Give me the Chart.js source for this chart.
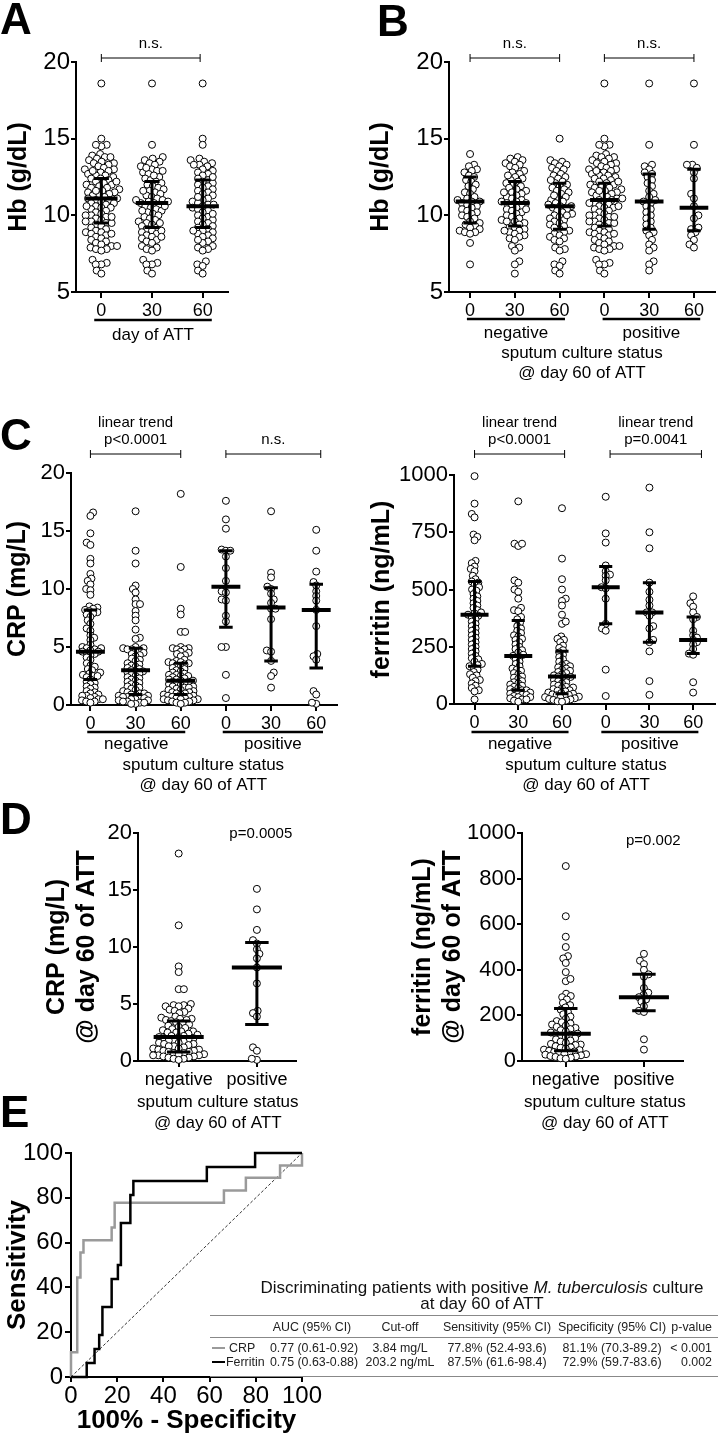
<!DOCTYPE html>
<html>
<head>
<meta charset="utf-8">
<script src="https://cdn.jsdelivr.net/npm/chart.js@4.4.1/dist/chart.umd.min.js"></script>
<style>
  body { margin: 0; background: #fff; }
  #page { position: relative; width: 720px; height: 1447px; overflow: hidden; font-family: 'Liberation Sans', Arial, sans-serif; color: #000; }
  canvas { position: absolute; }
  .letter { position: absolute; font-weight: bold; font-size: 44px; line-height: 1; }
  .t { position: absolute; white-space: nowrap; transform: translate(-50%, -50%); font-size: 12.4px; color: #222; line-height: 1; }
  .r { transform: translate(-100%, -50%); }
  .l { transform: translate(0, -50%); }
  .ttl { font-size: 17px; color: #111; }
  .rule { position: absolute; left: 210px; width: 508px; height: 1px; background: #888; }
  .dash { position: absolute; left: 212px; width: 13px; height: 2px; }
</style>
</head>
<body>
<div id="page">
  <canvas id="chA" width="240" height="320" style="left:0;top:30px"></canvas>
  <canvas id="chB" width="358" height="360" style="left:362px;top:30px"></canvas>
  <canvas id="chC1" width="345" height="400" style="left:0;top:395px"></canvas>
  <canvas id="chC2" width="360" height="400" style="left:360px;top:395px"></canvas>
  <canvas id="chD1" width="310" height="335" style="left:0;top:800px"></canvas>
  <canvas id="chD2" width="340" height="335" style="left:360px;top:800px"></canvas>
  <canvas id="chE" width="330" height="322" style="left:0;top:1125px"></canvas>

  <div class="letter" style="left:0;top:-3px">A</div>
  <div class="letter" style="left:377px;top:-1px">B</div>
  <div class="letter" style="left:0;top:413px">C</div>
  <div class="letter" style="left:0;top:797px">D</div>
  <div class="letter" style="left:0;top:1090px">E</div>

  <!-- ROC table -->
  <div class="t ttl" style="left:482px;top:1287px">Discriminating patients with positive <i>M. tuberculosis</i> culture</div>
  <div class="t ttl" style="left:482px;top:1303px">at day 60 of ATT</div>
  <div class="rule" style="top:1315px"></div>
  <div class="rule" style="top:1337px"></div>
  <div class="rule" style="top:1376px"></div>
  <div class="t" style="left:312px;top:1327px">AUC (95% CI)</div>
  <div class="t" style="left:400px;top:1327px">Cut-off</div>
  <div class="t" style="left:497px;top:1327px">Sensitivity (95% CI)</div>
  <div class="t" style="left:612px;top:1327px">Specificity (95% CI)</div>
  <div class="t r" style="left:712px;top:1327px">p-value</div>
  <div class="dash" style="top:1347px;background:#9a9a9a"></div>
  <div class="t l" style="left:229px;top:1348px">CRP</div>
  <div class="t" style="left:314px;top:1348px">0.77 (0.61-0.92)</div>
  <div class="t" style="left:400px;top:1348px">3.84 mg/L</div>
  <div class="t" style="left:497px;top:1348px">77.8% (52.4-93.6)</div>
  <div class="t" style="left:612px;top:1348px">81.1% (70.3-89.2)</div>
  <div class="t r" style="left:712px;top:1348px">&lt; 0.001</div>
  <div class="dash" style="top:1361px;background:#000"></div>
  <div class="t l" style="left:226px;top:1362px">Ferritin</div>
  <div class="t" style="left:314px;top:1362px">0.75 (0.63-0.88)</div>
  <div class="t" style="left:400px;top:1362px">203.2 ng/mL</div>
  <div class="t" style="left:497px;top:1362px">87.5% (61.6-98.4)</div>
  <div class="t" style="left:612px;top:1362px">72.9% (59.7-83.6)</div>
  <div class="t r" style="left:712px;top:1362px">0.002</div>
</div>
<script>
// --- 1. DATA ---
// panel A: Hb by day of ATT
const dayLabels = ['0', '30', '60'];
const hbDay0 = [18.6, 15.0, 14.6, 14.5, 14.6, 14.0, 13.9, 13.8, 13.8, 13.7, 13.6, 13.5, 13.4, 13.4, 13.3, 13.2, 13.1, 13.0, 13.0, 12.9,
  12.8, 12.7, 12.6, 12.6, 12.5, 12.4, 12.4, 12.3, 12.2, 12.1, 12.0, 12.0, 11.9, 11.8, 11.8, 11.7, 11.6, 11.5, 11.5, 11.4,
  11.3, 11.3, 11.2, 11.1, 11.1, 11.0, 11.0, 10.9, 10.8, 10.8, 10.7, 10.6, 10.5, 10.5, 10.4, 10.3, 10.2, 10.1, 10.0, 10.0,
  9.9, 9.8, 9.7, 9.6, 9.6, 9.5, 9.5, 9.4, 9.3, 9.2, 9.1, 9.0, 8.9, 8.9, 8.8, 8.7, 8.6, 8.5, 8.4, 8.3,
  8.2, 8.1, 8.0, 8.0, 7.9, 7.8, 7.8, 7.7, 7.1, 6.9, 6.8, 6.8, 6.4, 6.2, 12.9, 11.6, 10.6, 9.9, 12.2, 8.8];
const hbDay30 = [18.6, 14.6, 13.8, 13.7, 13.6, 13.5, 13.4, 13.3, 13.2, 13.0, 12.9, 12.8, 12.7, 12.5, 12.4, 12.3, 12.2, 12.1, 12.0, 11.9,
  11.8, 11.7, 11.6, 11.5, 11.4, 11.3, 11.2, 11.1, 11.0, 10.9, 10.9, 10.8, 10.8, 10.7, 10.6, 10.5, 10.4, 10.3, 10.2, 10.1,
  10.0, 9.9, 9.8, 9.7, 9.6, 9.5, 9.4, 9.3, 9.2, 9.1, 9.0, 8.9, 8.8, 8.7, 8.6, 8.5, 8.4, 8.3, 8.2, 8.0,
  7.9, 7.8, 7.7, 7.1, 6.9, 6.8, 6.8, 6.4, 6.2, 12.6, 11.6, 10.3, 9.5, 12.9, 13.1, 11.0, 10.6, 9.0, 8.6];
const hbDay60 = [18.6, 15.0, 14.6, 13.7, 13.6, 13.5, 13.4, 13.3, 13.3, 13.2, 13.0, 12.9, 12.8, 12.7, 12.6, 12.4, 12.3, 12.2, 12.1, 12.0,
  11.9, 11.8, 11.7, 11.6, 11.5, 11.4, 11.3, 11.1, 11.0, 10.9, 10.8, 10.7, 10.7, 10.6, 10.5, 10.4, 10.3, 10.2, 10.0, 9.9,
  9.8, 9.7, 9.6, 9.5, 9.4, 9.3, 9.2, 9.1, 9.0, 8.9, 8.8, 8.7, 8.6, 8.5, 8.3, 8.2, 8.0, 7.9, 7.8, 7.7,
  7.0, 6.8, 6.7, 6.4, 6.2, 12.5, 11.2, 10.1, 9.0, 8.4];
const hbDayMedian = [11.1, 10.8, 10.6];
const hbDayQ1 = [9.5, 9.2, 9.2];
const hbDayQ3 = [12.4, 12.2, 12.3];

// panel B: Hb by culture status
const statusLabels = ['0', '30', '60', '0', '30', '60'];
const hbNeg0 = [14.0, 13.3, 13.2, 13.0, 12.9, 12.8, 12.6, 12.5, 12.3, 12.2, 12.0, 11.9, 11.7, 11.5, 11.4, 11.2, 11.1, 11.0, 10.9, 10.9,
  10.8, 10.7, 10.6, 10.5, 10.4, 10.3, 10.2, 10.1, 10.0, 9.9, 9.8, 9.6, 9.5, 9.4, 9.3, 9.2, 9.1, 9.0, 8.9, 8.9, 8.8, 8.2, 6.8];
const hbNeg30 = [13.8, 13.7, 13.6, 13.5, 13.4, 13.3, 13.2, 13.1, 12.9, 12.8, 12.7, 12.5, 12.4, 12.3, 12.2, 12.1, 12.0, 11.9, 11.8, 11.7,
  11.6, 11.5, 11.4, 11.3, 11.2, 11.1, 11.0, 10.9, 10.9, 10.8, 10.8, 10.7, 10.6, 10.5, 10.4, 10.3, 10.2, 10.1, 10.0, 9.9,
  9.8, 9.7, 9.6, 9.5, 9.4, 9.3, 9.2, 9.1, 9.0, 8.9, 8.8, 8.7, 8.6, 8.5, 8.4, 8.0, 7.9, 7.7, 7.0, 6.8, 6.2, 12.6, 11.5, 10.4, 9.6, 9.0];
const hbNeg60 = [15.0, 13.6, 13.5, 13.4, 13.3, 13.2, 13.1, 13.0, 12.9, 12.7, 12.6, 12.5, 12.4, 12.2, 12.1, 12.0, 11.9, 11.8, 11.7, 11.6,
  11.5, 11.4, 11.2, 11.1, 11.0, 10.9, 10.8, 10.7, 10.6, 10.6, 10.5, 10.4, 10.3, 10.2, 10.1, 10.0, 9.9, 9.8, 9.7, 9.6,
  9.5, 9.4, 9.3, 9.1, 9.0, 8.9, 8.8, 8.7, 8.6, 8.5, 8.4, 8.3, 7.9, 7.8, 7.7, 7.0, 6.8, 6.7, 6.4, 6.2, 12.3, 11.3, 10.0, 9.2];
const hbPos0 = hbDay0;
const hbPos30 = [18.6, 14.6, 13.3, 13.2, 13.0, 12.8, 12.7, 12.5, 12.3, 12.1, 11.9, 11.6, 11.4, 11.2, 11.0, 10.9, 10.8, 10.6, 10.4, 10.2,
  10.0, 9.8, 9.6, 9.4, 9.2, 9.0, 8.9, 8.7, 8.4, 8.1, 7.9, 7.7, 7.0, 6.8, 6.4];
const hbPos60 = [18.6, 14.6, 13.3, 13.3, 13.1, 12.8, 12.4, 11.4, 11.1, 10.6, 10.0, 9.8, 9.2, 9.1, 8.9, 8.7, 8.4, 8.1, 7.9];
const hbStatusMedian = [10.9, 10.8, 10.6, 11.0, 10.9, 10.5];
const hbStatusQ1 = [9.5, 9.3, 9.1, 9.3, 9.1, 9.0];
const hbStatusQ3 = [12.5, 12.2, 12.1, 12.1, 12.7, 13.0];

// panel C: CRP and ferritin
const crpNeg0 = [16.6, 16.3, 14.8, 14.0, 13.8, 12.6, 12.2, 11.3, 10.9, 10.7, 10.4, 10.0, 9.9, 9.5, 8.5, 8.4, 8.3, 8.2, 8.1, 8.0,
  7.9, 7.8, 7.6, 7.3, 7.0, 6.6, 6.4, 6.0, 5.8, 5.6, 5.2, 5.0, 4.9, 4.9, 4.8, 4.7, 4.6, 4.6, 4.5, 4.4,
  4.3, 4.1, 3.9, 3.6, 3.4, 3.3, 3.1, 3.0, 2.8, 2.7, 2.6, 2.5, 2.5, 2.4, 2.2, 2.0, 1.9, 1.8, 1.6, 1.5,
  1.4, 1.2, 1.1, 1.0, 0.9, 0.8, 0.8, 0.7, 0.6, 0.5, 0.5, 0.4, 0.3, 0.3, 0.2];
const crpNeg30 = [16.7, 13.3, 12.2, 10.3, 10.0, 9.7, 9.1, 8.7, 8.7, 8.1, 7.7, 7.3, 6.5, 5.8, 5.7, 5.0, 4.9, 4.9, 4.8, 4.8,
  4.7, 4.6, 4.5, 4.4, 4.3, 4.2, 4.0, 3.9, 3.8, 3.6, 3.5, 3.4, 3.3, 3.2, 3.1, 3.0, 2.9, 2.9, 2.8, 2.7,
  2.6, 2.5, 2.4, 2.3, 2.2, 2.1, 2.0, 1.9, 1.8, 1.7, 1.6, 1.5, 1.4, 1.3, 1.2, 1.1, 1.0, 1.0, 0.9, 0.9,
  0.8, 0.8, 0.7, 0.7, 0.6, 0.6, 0.5, 0.5, 0.4, 0.4, 0.3, 0.3, 0.2, 0.2, 0.1, 0.1];
const crpNeg60 = [18.2, 11.9, 8.3, 7.8, 6.3, 6.3, 5.0, 4.9, 4.9, 4.8, 4.8, 4.6, 4.5, 4.4, 4.3, 4.2, 3.9, 3.8, 3.7, 3.7,
  3.6, 3.6, 3.5, 3.4, 3.3, 3.2, 3.1, 3.0, 2.9, 2.8, 2.7, 2.6, 2.6, 2.5, 2.5, 2.4, 2.3, 2.2, 2.2, 2.1,
  2.1, 2.0, 2.0, 1.9, 1.8, 1.8, 1.7, 1.6, 1.6, 1.5, 1.5, 1.4, 1.3, 1.3, 1.2, 1.1, 1.1, 1.0, 1.0, 0.9,
  0.9, 0.8, 0.8, 0.7, 0.7, 0.6, 0.6, 0.5, 0.5, 0.5, 0.4, 0.4, 0.3, 0.3, 0.2, 0.2, 0.1];
const crpPos0 = [17.6, 16.0, 15.2, 13.4, 13.3, 13.3, 12.8, 11.8, 10.7, 9.8, 9.7, 9.1, 9.0, 7.7, 7.2, 5.0, 5.0, 2.6, 0.6];
const crpPos30 = [16.7, 11.4, 11.0, 10.2, 10.0, 9.6, 9.1, 8.8, 8.3, 8.3, 7.4, 4.7, 4.6, 3.8, 2.8, 2.5, 1.5];
const crpPos60 = [15.1, 13.3, 11.5, 10.6, 10.3, 9.8, 9.4, 9.0, 8.2, 6.8, 4.4, 4.2, 3.9, 1.2, 0.9, 0.1, 0.2];
const crpMedian = [4.6, 3.0, 2.1, 10.2, 8.4, 8.2];
const crpQ1 = [2.2, 0.9, 0.9, 6.7, 3.8, 3.2];
const crpQ3 = [8.2, 4.9, 3.6, 13.3, 10.1, 10.4];

const ferrNeg0 = [995, 875, 830, 815, 740, 730, 715, 625, 615, 600, 590, 580, 560, 545, 535, 530, 520, 510, 500, 495,
  480, 470, 460, 450, 440, 430, 420, 410, 400, 395, 390, 385, 380, 370, 360, 350, 340, 330, 320, 310,
  300, 290, 280, 270, 260, 250, 240, 230, 220, 210, 200, 195, 185, 175, 170, 165, 160, 150, 140, 130,
  125, 115, 105, 100, 90, 80, 70, 60, 55, 20];
const ferrNeg30 = [885, 700, 690, 700, 540, 530, 500, 490, 460, 420, 410, 405, 380, 370, 355, 340, 330, 320, 310, 300,
  295, 285, 280, 270, 260, 250, 240, 235, 225, 215, 210, 205, 195, 185, 175, 165, 155, 150, 145, 135,
  130, 120, 115, 110, 100, 95, 90, 85, 80, 75, 70, 65, 60, 60, 55, 50, 50, 45, 40, 40,
  35, 30, 30, 25, 20, 20, 15, 10];
const ferrNeg60 = [855, 635, 545, 500, 460, 450, 430, 390, 350, 360, 295, 285, 280, 270, 255, 245, 235, 225, 215, 205,
  195, 185, 175, 170, 165, 160, 155, 150, 145, 140, 135, 130, 125, 120, 118, 115, 110, 105, 100, 95,
  90, 85, 80, 75, 72, 70, 65, 60, 58, 55, 50, 48, 45, 42, 40, 38, 35, 32, 30, 28,
  25, 22, 20, 18, 15, 12, 10];
const ferrPos0 = [905, 745, 705, 605, 580, 565, 560, 540, 510, 505, 460, 350, 330, 320, 150, 35];
const ferrPos30 = [945, 750, 680, 530, 490, 455, 430, 400, 400, 385, 340, 330, 280, 270, 230, 100, 40];
const ferrPos60 = [470, 440, 425, 400, 380, 370, 320, 300, 290, 280, 270, 260, 240, 220, 215, 95, 50];
const ferrMedian = [390, 210, 120, 510, 400, 280];
const ferrQ1 = [165, 60, 45, 350, 270, 220];
const ferrQ3 = [535, 365, 230, 600, 530, 380];

// panel D: day 60 only
const cultureLabels = ['negative', 'positive'];
const crpDay60Median = [2.1, 8.2];
const crpDay60Q1 = [0.8, 3.2];
const crpDay60Q3 = [3.5, 10.4];
const ferrDay60Median = [120, 280];
const ferrDay60Q1 = [45, 220];
const ferrDay60Q3 = [230, 380];

// panel E: ROC curves (100% - specificity, sensitivity)
const rocCrpFpr = [0, 0, 2.7, 4.1, 5.4, 17.6, 18.9, 66.2, 75.7, 90.5, 100];
const rocCrpSens = [0, 11.1, 44.4, 55.6, 61.1, 66.7, 77.8, 83.3, 88.9, 94.4, 100];
const rocFerFpr = [0, 6.8, 10.2, 12.2, 13.6, 17.6, 20.3, 21.6, 25.7, 27.0, 58.8, 79.7, 100];
const rocFerSens = [0, 6.25, 12.5, 18.75, 31.25, 43.75, 50, 68.75, 81.25, 87.5, 93.75, 100, 100];
const rocRef = [0, 100];

// --- 2. HELPERS ---
const FAMILY = "'Liberation Sans', Arial, sans-serif";
Chart.defaults.font.family = FAMILY;
Chart.defaults.color = '#000';

const MED_HALF = 0.32;
const CAP_HALF = 0.15;

function summarySets(med, q1, q3) {
    const bars = [], whiskers = [];
    med.forEach((m, i) => {
        bars.push({x: i - MED_HALF, y: m}, {x: i + MED_HALF, y: m}, {x: i, y: null});
        whiskers.push({x: i, y: q1[i]}, {x: i, y: q3[i]}, {x: i, y: null});
        whiskers.push({x: i - CAP_HALF, y: q1[i]}, {x: i + CAP_HALF, y: q1[i]}, {x: i, y: null});
        whiskers.push({x: i - CAP_HALF, y: q3[i]}, {x: i + CAP_HALF, y: q3[i]}, {x: i, y: null});
    });
    const line = {showLine: true, borderColor: '#000', pointRadius: 0, spanGaps: false, clip: false, order: 0};
    return [
        Object.assign({data: bars, borderWidth: 4}, line),
        Object.assign({data: whiskers, borderWidth: 3}, line)
    ];
}

// brackets, group underlines and footer texts around the plot
const annotPlugin = {
    id: 'annot',
    afterDraw(chart, args, o) {
        const ctx = chart.ctx, a = chart.chartArea;
        const px = v => chart.scales.x.getPixelForValue(v);
        ctx.save();
        ctx.fillStyle = '#000';
        ctx.strokeStyle = '#000';
        ctx.textAlign = 'center';
        ctx.textBaseline = 'middle';
        (o.brackets || []).forEach(b => {
            const x1 = px(b.from), x2 = px(b.to), y = a.top - o.bracketDy;
            ctx.lineWidth = 1;
            ctx.beginPath();
            ctx.moveTo(x1, y); ctx.lineTo(x2, y);
            ctx.moveTo(x1, y - 4); ctx.lineTo(x1, y + 4);
            ctx.moveTo(x2, y - 4); ctx.lineTo(x2, y + 4);
            ctx.stroke();
            ctx.font = '15px ' + FAMILY;
            b.text.slice().reverse().forEach((t, i) => ctx.fillText(t, (x1 + x2) / 2, y - 14 - i * 17));
        });
        (o.groups || []).forEach(g => {
            ctx.lineWidth = 2.5;
            ctx.beginPath();
            ctx.moveTo(px(g.from), a.bottom + o.lineDy);
            ctx.lineTo(px(g.to), a.bottom + o.lineDy);
            ctx.stroke();
            ctx.font = '17px ' + FAMILY;
            ctx.fillText(g.label, px((g.from + g.to) / 2), a.bottom + o.labelDy);
        });
        (o.footer || []).forEach((t, i) => {
            ctx.font = '17px ' + FAMILY;
            ctx.fillText(t, px(o.footerX), a.bottom + o.footerDy[i]);
        });
        (o.notes || []).forEach(n => {
            ctx.font = '15px ' + FAMILY;
            ctx.fillText(n.text, px(n.x), a.top + n.dy);
        });
        ctx.restore();
    }
};

// spread points of each column sideways so circles do not pile up
function swarm(chart, pts, dist) {
    const xs = chart.scales.x, ys = chart.scales.y;
    const byCat = {};
    pts.forEach(p => (byCat[p.cat] = byCat[p.cat] || []).push(p));
    Object.values(byCat).forEach(list => {
        const cx = xs.getPixelForValue(list[0].cat);
        const placed = [];
        let flip = 1;
        list.slice().sort((a, b) => a.y - b.y).forEach(p => {
            const py = ys.getPixelForValue(p.y);
            const near = placed.filter(q => Math.abs(q.py - py) < dist);
            const cands = [cx];
            near.forEach(q => {
                const h = Math.sqrt(dist * dist - (q.py - py) ** 2) + 0.01;
                cands.push(q.px - h, q.px + h);
            });
            flip = -flip;
            cands.sort((a, b) => (Math.abs(a - cx) - Math.abs(b - cx)) || flip * (a - b));
            const x = cands.find(c => near.every(q => (q.px - c) ** 2 + (q.py - py) ** 2 >= dist * dist - 0.001));
            placed.push({px: x, py});
            p.x = xs.getValueForPixel(x);
        });
    });
    chart.update('none');
}

function dotPlot(id, o) {
    const pts = [];
    o.groups.forEach((vals, i) => vals.forEach(v => pts.push({x: i, y: v, cat: i})));
    const chart = new Chart(document.getElementById(id), {
        type: 'scatter',
        data: {
            datasets: [
                ...summarySets(o.med, o.q1, o.q3),
                {data: pts, pointRadius: 3.5, pointBorderWidth: 1, pointBorderColor: '#000',
                 pointBackgroundColor: '#fff', clip: false, order: 1}
            ]
        },
        options: {
            responsive: false,
            devicePixelRatio: 1,
            animation: false,
            layout: {padding: o.pad},
            plugins: {legend: {display: false}, tooltip: {enabled: false}, annot: o.annot},
            scales: {
                x: {
                    type: 'linear', min: o.xMin, max: o.xMax,
                    afterBuildTicks: s => { s.ticks = o.labels.map((_, i) => ({value: i})); },
                    ticks: {autoSkip: false, maxRotation: 0, padding: 2, font: {size: o.xFont},
                            callback: (v, i) => o.labels[i]},
                    grid: {drawOnChartArea: false, tickLength: 6, color: '#000', lineWidth: 2},
                    border: {color: '#000', width: 2},
                    afterFit: s => { s.height = o.xHeight; }
                },
                y: {
                    type: 'linear', min: o.yMin, max: o.yMax,
                    ticks: {stepSize: o.yStep, padding: 1, font: {size: o.yFont}, callback: v => String(v)},
                    grid: {drawOnChartArea: false, tickLength: 5, color: '#000', lineWidth: 2},
                    border: {color: '#000', width: 2},
                    title: {display: true, text: o.yTitle, font: {size: 25, weight: 'bold', lineHeight: 1.2},
                            padding: {top: o.titlePad, bottom: 0}},
                    afterFit: s => { s.width = o.yWidth; }
                }
            }
        },
        plugins: [annotPlugin]
    });
    swarm(chart, pts, o.dist);
    return chart;
}

// --- 3. PANELS ---
dotPlot('chA', {
    groups: [hbDay0, hbDay30, hbDay60], labels: dayLabels,
    med: hbDayMedian, q1: hbDayQ1, q3: hbDayQ3,
    xMin: -0.5, xMax: 2.5, yMin: 5, yMax: 20, yStep: 5,
    yFont: 24, xFont: 18, yTitle: 'Hb (g/dL)', titlePad: 4,
    yWidth: 76, xHeight: 58, pad: {top: 32, right: 12, left: 0, bottom: 0}, dist: 5.6,
    annot: {
        bracketDy: 4, brackets: [{from: 0, to: 1.95, text: ['n.s.']}],
        lineDy: 28, labelDy: 43, groups: [{from: -0.14, to: 2.18, label: 'day of ATT'}]
    }
});

dotPlot('chB', {
    groups: [hbNeg0, hbNeg30, hbNeg60, hbPos0, hbPos30, hbPos60], labels: statusLabels,
    med: hbStatusMedian, q1: hbStatusQ1, q3: hbStatusQ3,
    xMin: -0.47, xMax: 5.47, yMin: 5, yMax: 20, yStep: 5,
    yFont: 24, xFont: 18, yTitle: 'Hb (g/dL)', titlePad: 4,
    yWidth: 87, xHeight: 98, pad: {top: 32, right: 2, left: 0, bottom: 0}, dist: 5.4,
    annot: {
        bracketDy: 4, brackets: [{from: 0, to: 2, text: ['n.s.']}, {from: 3, to: 5, text: ['n.s.']}],
        lineDy: 27, labelDy: 41,
        groups: [{from: -0.07, to: 2.12, label: 'negative'}, {from: 2.96, to: 5.14, label: 'positive'}],
        footer: ['sputum culture status', '@ day 60 of ATT'], footerX: 2.5, footerDy: [61, 81]
    }
});

dotPlot('chC1', {
    groups: [crpNeg0, crpNeg30, crpNeg60, crpPos0, crpPos30, crpPos60], labels: statusLabels,
    med: crpMedian, q1: crpQ1, q3: crpQ3,
    xMin: -0.43, xMax: 5.46, yMin: 0, yMax: 20, yStep: 5,
    yFont: 22, xFont: 18, yTitle: 'CRP (mg/L)', titlePad: 3,
    yWidth: 71, xHeight: 90, pad: {top: 78, right: 8, left: 0, bottom: 0}, dist: 4.4,
    annot: {
        bracketDy: 19,
        brackets: [{from: 0, to: 2, text: ['linear trend', 'p<0.0001']}, {from: 3, to: 5.1, text: ['n.s.']}],
        lineDy: 27, labelDy: 39,
        groups: [{from: -0.07, to: 2.1, label: 'negative'}, {from: 2.93, to: 5.15, label: 'positive'}],
        footer: ['sputum culture status', '@ day 60 of ATT'], footerX: 2.5, footerDy: [60, 80]
    }
});

dotPlot('chC2', {
    groups: [ferrNeg0, ferrNeg30, ferrNeg60, ferrPos0, ferrPos30, ferrPos60], labels: statusLabels,
    med: ferrMedian, q1: ferrQ1, q3: ferrQ3,
    xMin: -0.47, xMax: 5.5, yMin: 0, yMax: 1000, yStep: 250,
    yFont: 22, xFont: 18, yTitle: 'ferritin (ng/mL)', titlePad: 7,
    yWidth: 94, xHeight: 91, pad: {top: 80, right: 0, left: 0, bottom: 0}, dist: 4.4,
    annot: {
        bracketDy: 21,
        brackets: [{from: 0, to: 2.06, text: ['linear trend', 'p<0.0001']},
                   {from: 3.1, to: 5.19, text: ['linear trend', 'p=0.0041']}],
        lineDy: 28, labelDy: 40,
        groups: [{from: -0.07, to: 2.15, label: 'negative'}, {from: 2.9, to: 5.12, label: 'positive'}],
        footer: ['sputum culture status', '@ day 60 of ATT'], footerX: 2.55, footerDy: [61, 81]
    }
});

dotPlot('chD1', {
    groups: [crpNeg60, crpPos60], labels: cultureLabels,
    med: crpDay60Median, q1: crpDay60Q1, q3: crpDay60Q3,
    xMin: -0.52, xMax: 1.5, yMin: 0, yMax: 20, yStep: 5,
    yFont: 22, xFont: 18, yTitle: ['CRP (mg/L)', '@ day 60 of ATT'], titlePad: 42,
    yWidth: 138, xHeight: 74, pad: {top: 33, right: 14, left: 0, bottom: 0}, dist: 5.2,
    annot: {
        footer: ['sputum culture status', '@ day 60 of ATT'], footerX: 0.5, footerDy: [41, 62],
        notes: [{x: 1.05, dy: 1, text: 'p=0.0005'}]
    }
});

dotPlot('chD2', {
    groups: [ferrNeg60, ferrPos60], labels: cultureLabels,
    med: ferrDay60Median, q1: ferrDay60Q1, q3: ferrDay60Q3,
    xMin: -0.56, xMax: 1.5, yMin: 0, yMax: 1000, yStep: 200,
    yFont: 22, xFont: 18, yTitle: ['ferritin (ng/mL)', '@ day 60 of ATT'], titlePad: 48,
    yWidth: 162, xHeight: 74, pad: {top: 33, right: 17, left: 0, bottom: 0}, dist: 5.2,
    annot: {
        footer: ['sputum culture status', '@ day 60 of ATT'], footerX: 0.5, footerDy: [41, 62],
        notes: [{x: 1.12, dy: 8, text: 'p=0.002'}]
    }
});

// --- 4. ROC ---
const toPts = (xs, ys) => xs.map((x, i) => ({x, y: ys[i]}));
new Chart(document.getElementById('chE'), {
    type: 'scatter',
    data: {
        datasets: [
            {data: toPts(rocFerFpr, rocFerSens), showLine: true, stepped: 'before', borderColor: '#000',
             borderWidth: 2.5, pointRadius: 0, clip: 4, order: 0},
            {data: toPts(rocCrpFpr, rocCrpSens), showLine: true, stepped: 'before', borderColor: '#9a9a9a',
             borderWidth: 2.5, pointRadius: 0, clip: 4, order: 1},
            {data: toPts(rocRef, rocRef), showLine: true, borderColor: '#000', borderWidth: 0.8,
             borderDash: [3, 2], pointRadius: 0, order: 2}
        ]
    },
    options: {
        responsive: false,
        devicePixelRatio: 1,
        animation: false,
        layout: {padding: {top: 28, right: 28, left: 0, bottom: 0}},
        plugins: {legend: {display: false}, tooltip: {enabled: false}},
        scales: {
            x: {
                type: 'linear', min: 0, max: 100,
                ticks: {stepSize: 20, padding: 0, maxRotation: 0, font: {size: 24}},
                grid: {drawOnChartArea: false, tickLength: 5, color: '#000', lineWidth: 2},
                border: {color: '#000', width: 2},
                title: {display: true, text: '100% - Specificity', font: {size: 26, weight: 'bold'},
                        padding: {top: 0, bottom: 11}},
                afterFit: s => { s.height = 70; }
            },
            y: {
                type: 'linear', min: 0, max: 100,
                ticks: {stepSize: 20, padding: 2, font: {size: 24}},
                grid: {drawOnChartArea: false, tickLength: 6, color: '#000', lineWidth: 2},
                border: {color: '#000', width: 2},
                title: {display: true, text: 'Sensitivity', font: {size: 26, weight: 'bold'},
                        padding: {top: 2, bottom: 0}},
                afterFit: s => { s.width = 71; }
            }
        }
    }
});
</script>
</body>
</html>
